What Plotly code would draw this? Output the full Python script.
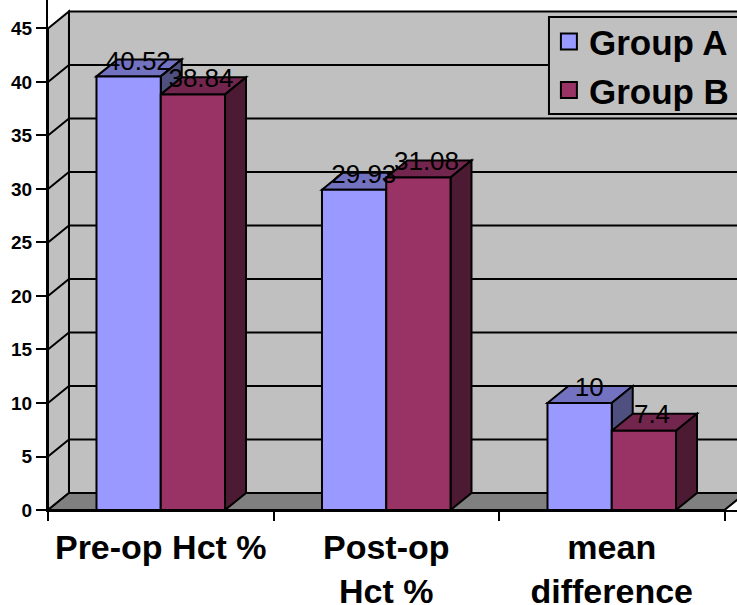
import plotly.graph_objects as go

categories = ["Pre-op Hct %", "Post-op<br>Hct %", "mean<br>difference"]
group_a = [40.52, 29.93, 10]
group_b = [38.84, 31.08, 7.4]
y_ticks = [0, 5, 10, 15, 20, 25, 30, 35, 40, 45]

# pseudo-3D styling, in axis units
DX, DY = 0.093, 1.59
BAR_W = 0.285
FONT = "Liberation Sans, Arial, sans-serif"
LW = 2

series = [
    dict(name="Group A", values=group_a, off=-BAR_W / 2, front="#9999FF", top="#7272C0", side="#4F4F80"),
    dict(name="Group B", values=group_b, off=BAR_W / 2, front="#993366", top="#73264D", side="#4D1A33"),
]
label_shift = {"Group A": (0.043, 1.25), "Group B": (0.036, 1.3)}


def poly(points, fill, layer="below"):
    path = "M" + " L".join(f"{x},{y}" for x, y in points) + " Z"
    return dict(type="path", path=path, xref="x", yref="y", fillcolor=fill,
                line=dict(color="black", width=LW), layer=layer)


def seg(points):
    path = "M" + " L".join(f"{x},{y}" for x, y in points)
    return dict(type="path", path=path, xref="x", yref="y",
                line=dict(color="black", width=LW), layer="below")


n = len(categories)
top_v = y_ticks[-1]
shapes = [
    poly([(DX, DY), (DX, top_v + DY), (n + DX, top_v + DY), (n + DX, DY)], "#C0C0C0"),
    poly([(0, 0), (0, top_v), (DX, top_v + DY), (DX, DY)], "#C0C0C0"),
    poly([(0, 0), (DX, DY), (n + DX, DY), (n, 0)], "#808080"),
]
for v in y_ticks[1:-1]:
    shapes.append(seg([(0, v), (DX, v + DY), (n + DX, v + DY)]))

fig = go.Figure()
for s in series:
    xs = [i + 0.5 + s["off"] for i in range(n)]
    for x, v in zip(xs, s["values"]):
        xl, xr = x - BAR_W / 2, x + BAR_W / 2
        shapes.append(poly([(xl, v), (xl + DX, v + DY), (xr + DX, v + DY), (xr, v)], s["top"]))
        shapes.append(poly([(xr, 0), (xr, v), (xr + DX, v + DY), (xr + DX, DY)], s["side"]))
    fig.add_trace(go.Bar(x=xs, y=s["values"], width=BAR_W, name=s["name"], showlegend=False,
                         marker=dict(color=s["front"], line=dict(color="black", width=LW))))

for s in series:
    xs = [i + 0.5 + s["off"] + label_shift[s["name"]][0] for i in range(n)]
    ys = [v + label_shift[s["name"]][1] for v in s["values"]]
    fig.add_trace(go.Scatter(x=xs, y=ys, mode="text", text=[str(v) for v in s["values"]],
                             textposition="middle center", showlegend=False, hoverinfo="skip",
                             textfont=dict(family=FONT, size=26, color="black")))

for s in series:
    fig.add_trace(go.Scatter(x=[None], y=[None], mode="markers", name=s["name"],
                             marker=dict(symbol="square", size=20, color=s["front"],
                                         line=dict(color="black", width=2))))

# legend frame, running off the right edge of the page as in the original
shapes.append(dict(type="rect", xref="paper", yref="paper", x0=0.7271, x1=1.03, y0=0.7765, y1=0.9667,
                   fillcolor="#C0C0C0", line=dict(color="black", width=LW), layer="above"))

fig.update_layout(
    width=737, height=605,
    margin=dict(l=48, r=0, t=0, b=95, autoexpand=False),
    paper_bgcolor="white", plot_bgcolor="white",
    barmode="overlay",
    font=dict(family=FONT, color="black"),
    shapes=shapes,
    showlegend=True,
    legend=dict(x=0.727, y=0.976, xanchor="left", yanchor="top", bgcolor="rgba(0,0,0,0)",
                borderwidth=0,
                font=dict(family=FONT, size=35, color="black", weight="bold"),
                itemsizing="trace", itemclick=False, itemdoubleclick=False),
    xaxis=dict(range=[0, 3.0554], tickmode="array", tickvals=[0.5, 1.5, 2.5], ticktext=categories,
               ticks="", showgrid=False, zeroline=False, showline=True, linecolor="black", linewidth=LW,
               tickfont=dict(family=FONT, size=34, color="black", weight="bold"), tickangle=0,
               ticklabelstandoff=6,
               minor=dict(tickmode="linear", tick0=0, dtick=1, ticks="outside", ticklen=9,
                          tickwidth=2, tickcolor="black", showgrid=False)),
    yaxis=dict(range=[0, 47.66], tickmode="array", tickvals=y_ticks, ticks="outside", ticklen=10,
               tickwidth=2, tickcolor="black", showgrid=False, zeroline=False, showline=True,
               linecolor="black", linewidth=LW,
               tickfont=dict(family=FONT, size=19, color="black", weight="bold")),
)

fig.write_html("out.html", config={"displayModeBar": False},
               post_script="document.body.style.margin='0';")
